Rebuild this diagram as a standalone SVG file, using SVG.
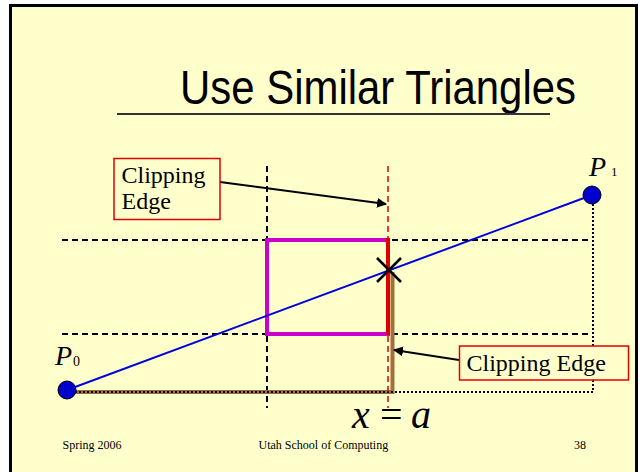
<svg xmlns="http://www.w3.org/2000/svg" width="640" height="472" viewBox="0 0 640 472">
<defs>
<style>
.dash{stroke:#000;stroke-width:2;stroke-dasharray:6 4;fill:none}
.rdash{stroke:#e00000;stroke-width:1.5;stroke-dasharray:6 4;fill:none}
.dot{stroke:#000;stroke-width:2;stroke-dasharray:2 2;fill:none}
.pt{fill:#0000cc;stroke:#000;stroke-width:1}
.box{fill:#ffffcc;stroke:#e00000;stroke-width:1.5}
.tm{font-family:"Liberation Serif","Times New Roman",serif;fill:#000}
.arr{stroke:#000;stroke-width:2;fill:none;marker-end:url(#ah)}
</style>
<marker id="ah" viewBox="0 0 10 10" refX="9" refY="5" markerWidth="5" markerHeight="5" orient="auto" markerUnits="strokeWidth">
<path d="M0,0 L10,5 L0,10 z" fill="#000"/>
</marker>
</defs>
<rect x="0" y="0" width="640" height="472" fill="#fff"/>
<rect x="10.5" y="5.5" width="626" height="480" fill="#ffffcc" stroke="#000" stroke-width="3"/>
<g id="title">
<text x="180" y="104" font-family="Liberation Sans, Arial, sans-serif" font-size="48" textLength="396" lengthAdjust="spacingAndGlyphs" fill="#000">Use Similar Triangles</text>
<line x1="117" y1="114" x2="550" y2="114" stroke="#333" stroke-width="2"/>
</g>
<g id="grid">
<line class="dash" x1="62" y1="240" x2="590" y2="240"/>
<line class="dash" x1="62" y1="334" x2="590" y2="334"/>
<line class="dash" x1="267" y1="166" x2="267" y2="408"/>
<line class="dot" x1="593" y1="204" x2="593" y2="392"/>
</g>
<g id="connectors">
<polyline points="67,392 392.5,392 392.5,272" fill="none" stroke="#a0703c" stroke-width="4"/>
<line class="dot" x1="67" y1="392" x2="593" y2="392"/>
<rect id="clip-window" x="267" y="240" width="121" height="94" fill="none" stroke="#cc00cc" stroke-width="4"/>
<line class="rdash" x1="388" y1="166" x2="388" y2="408"/>
<line x1="388" y1="238" x2="388" y2="335" stroke="#dd0000" stroke-width="4"/>
<line x1="67" y1="390" x2="592" y2="195" stroke="#0000dd" stroke-width="2"/>
<path d="M377,258 L401,282 M401,258 L377,282" stroke="#000" stroke-width="2.5"/>
<line class="arr" x1="220" y1="182" x2="386" y2="204"/>
<line class="arr" x1="459" y1="360" x2="394" y2="350"/>
</g>
<g id="P0">
<circle class="pt" cx="67" cy="390" r="9"/>
<text class="tm" x="55" y="365" font-size="28" font-style="italic">P</text>
<text class="tm" x="73" y="366" font-size="14">0</text>
</g>
<g id="P1">
<circle class="pt" cx="592" cy="195" r="9"/>
<text class="tm" x="589" y="176" font-size="28" font-style="italic">P</text>
<text class="tm" x="611" y="176" font-size="13">1</text>
</g>
<g id="callout-top">
<rect class="box" x="114" y="158.5" width="106" height="61"/>
<text class="tm" x="121.5" y="183" font-size="24">Clipping</text>
<text class="tm" x="121.5" y="209" font-size="24">Edge</text>
</g>
<g id="callout-bottom">
<rect class="box" x="459.5" y="346" width="169" height="34"/>
<text class="tm" x="466.5" y="370.5" font-size="24">Clipping Edge</text>
</g>
<g id="xa">
<text class="tm" x="352" y="428" font-size="40" font-style="italic">x</text>
<text class="tm" x="380" y="428" font-size="40">=</text>
<text class="tm" x="411" y="428" font-size="40" font-style="italic">a</text>
</g>
<g id="footer">
<text class="tm" x="62.5" y="449" font-size="12">Spring 2006</text>
<text class="tm" x="258.5" y="449" font-size="12">Utah School of Computing</text>
<text class="tm" x="574" y="449" font-size="12">38</text>
</g>
</svg>
